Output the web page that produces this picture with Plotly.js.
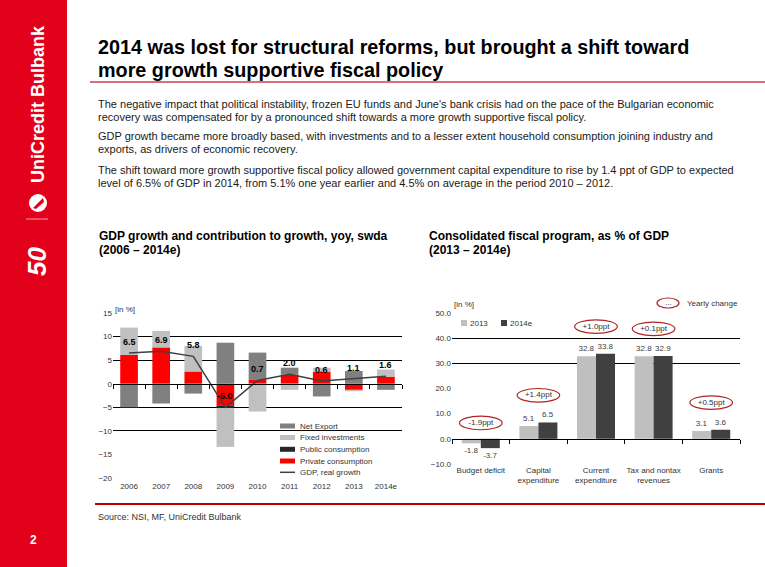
<!DOCTYPE html>
<html>
<head>
<meta charset="utf-8">
<script src="https://cdn.plot.ly/plotly-3.0.1.min.js"></script>
<style>html,body{margin:0;padding:0;background:#fff;}#chart{width:765px;height:567px;}</style>
</head>
<body>
<div id="chart"></div>
<script>
// ---------- Data ----------
const years = ['2006','2007','2008','2009','2010','2011','2012','2013','2014e'];
const privateConsumption = [6.1, 7.7, 2.6, -4.6, 0.8, 1.9, 2.5, -1.3, 1.5];
const publicConsumption  = [0, 0, 0, -0.6, 0, 0, 0, 0, 0];
const fixedInvestments   = [5.8, 3.5, 5.4, -8.2, -5.9, -1.3, 0.9, -0.3, 1.5];
const netExport          = [-5.0, -4.2, -2.1, 8.7, 5.8, 1.5, -2.7, 2.7, -1.3];
const gdpGrowth          = [6.5, 6.9, 5.8, -5.0, 0.7, 2.0, 0.6, 1.1, 1.6];
const leftTickVals = [-20, -15, -10, -5, 0, 5, 10, 15];
const leftGridVals = [-10, -5, 5, 10, 15];

const fiscalCategories = ['Budget deficit', 'Capital<br>expenditure', 'Current<br>expenditure', 'Tax and nontax<br>revenues', 'Grants'];
const fiscal2013  = [-1.8, 5.1, 32.8, 32.8, 3.1];
const fiscal2014e = [-3.7, 6.5, 33.8, 32.9, 3.6];
const rightTickVals = [-10, 0, 10, 20, 30, 40, 50];
const rightGridVals = [-10, 30, 40, 50];

// ---------- Styles ----------
const FONT = 'Liberation Sans, Arial, sans-serif';
const C_NET = '#808080', C_FIX = '#C0C0C0', C_PUB = '#262626', C_PRIV = '#FF0000', C_GDP = '#404040';
const C_13 = '#BFBFBF', C_14 = '#404040';
const RED = '#E2001A';
const W = 765, H = 567;
const px = x => x / W;
const py = y => 1 - y / H;

const L_DOM_X = [px(113), px(402)], L_DOM_Y = [py(478), py(313)], L_RANGE = [-20, 15];
const R_DOM_X = [px(452), px(740)], R_DOM_Y = [py(464), py(313)], R_RANGE = [-10, 50];
const zeroPos = (dom, rng) => dom[0] + (0 - rng[0]) / (rng[1] - rng[0]) * (dom[1] - dom[0]);

const barW = 0.55;
const traces = [
  {type:'bar', name:'Private consumption', x:years, y:privateConsumption, xaxis:'x', yaxis:'y', width:barW, marker:{color:C_PRIV}},
  {type:'bar', name:'Public consumption', x:years, y:publicConsumption, xaxis:'x', yaxis:'y', width:barW, marker:{color:C_PUB}},
  {type:'bar', name:'Fixed investments', x:years, y:fixedInvestments, xaxis:'x', yaxis:'y', width:barW, marker:{color:C_FIX}},
  {type:'bar', name:'Net Export', x:years, y:netExport, xaxis:'x', yaxis:'y', width:barW, marker:{color:C_NET}},
  {type:'scatter', mode:'lines', name:'GDP, real growth', x:years, y:gdpGrowth, xaxis:'x3', yaxis:'y3', line:{color:C_GDP, width:1.5}},
  {type:'bar', name:'2013', x:fiscalCategories, y:fiscal2013, xaxis:'x2', yaxis:'y2', offsetgroup:'a', width:0.33, offset:-0.33,
   marker:{color:C_13}, texttemplate:'%{y:.1f}', textposition:'outside', constraintext:'none', cliponaxis:false,
   textfont:{family:FONT, size:8, color:'#404040'}},
  {type:'bar', name:'2014e', x:fiscalCategories, y:fiscal2014e, xaxis:'x2', yaxis:'y2', offsetgroup:'b', width:0.33, offset:0,
   marker:{color:C_14}, texttemplate:'%{y:.1f}', textposition:'outside', constraintext:'none', cliponaxis:false,
   textfont:{family:FONT, size:8, color:'#404040'}}
];

// yearly change ovals
const changeY = fiscalCategories.map((c, i) => {
  const top = Math.max(fiscal2013[i], fiscal2014e[i]);
  return top > 0 ? top + 10.8 : 6.3;
});
const changeText = fiscalCategories.map((c, i) => {
  const d = fiscal2014e[i] - fiscal2013[i];
  return (d >= 0 ? '+' : '') + d.toFixed(1) + 'ppt';
});
traces.push({type:'scatter', mode:'text', x:fiscalCategories, y:changeY, text:changeText, xaxis:'x4', yaxis:'y4',
  textfont:{family:FONT, size:8, color:'#333'}, cliponaxis:false});

const shapes = [];
const annotations = [];
const txt = (x, y, text, size, color, opts) => annotations.push(Object.assign({xref:'paper', yref:'paper', x:px(x), y:py(y),
  xanchor:'left', yanchor:'middle', align:'left', showarrow:false, text:text, font:{family:FONT, size:size, color:color}}, opts || {}));

// page decoration
shapes.push({type:'rect', xref:'paper', yref:'paper', x0:0, x1:px(67), y0:0, y1:1, fillcolor:RED, line:{width:0}, layer:'below'});
shapes.push({type:'line', xref:'paper', yref:'paper', x0:px(90), x1:1, y0:py(82), y1:py(82), line:{color:'#C8424A', width:1.5}});
shapes.push({type:'line', xref:'paper', yref:'paper', x0:px(95), x1:1, y0:py(504), y1:py(504), line:{color:'#C00000', width:2}});
// logo
shapes.push({type:'circle', xref:'paper', yref:'paper', x0:px(29), x1:px(47), y0:py(212), y1:py(194), fillcolor:'#fff', line:{width:0}});
shapes.push({type:'path', xref:'paper', yref:'paper', path:`M ${px(33)} ${py(208)} L ${px(43)} ${py(198)} L ${px(44)} ${py(202)} L ${px(36)} ${py(209)} Z`, fillcolor:RED, line:{width:0}});
shapes.push({type:'line', xref:'paper', yref:'paper', x0:px(26), x1:px(48), y0:py(219), y1:py(219), line:{color:'#F3A0A8', width:1}});
txt(38, 104, '<b>UniCredit Bulbank</b>', 18, '#fff', {textangle:-90, xanchor:'center', yanchor:'middle'});
txt(37, 262, '<b><i>50</i></b>', 26, '#fff', {textangle:-90, xanchor:'center', yanchor:'middle'});
txt(33, 540, '<b>2</b>', 12, '#fff', {xanchor:'center'});

// title & text
txt(96, 47, '<b>2014 was lost for structural reforms, but brought a shift toward</b>', 19.8, '#000');
txt(96, 70, '<b>more growth supportive fiscal policy</b>', 19.8, '#000');
const bodyLines = [
  ["The negative impact that political instability, frozen EU funds and June's bank crisis had on the pace of the Bulgarian economic", 104],
  ['recovery was compensated for by a pronounced shift towards a more growth supportive fiscal policy.', 117],
  ['GDP growth became more broadly based, with investments and to a lesser extent household consumption joining industry and', 136],
  ['exports, as drivers of economic recovery.', 149],
  ['The shift toward more growth supportive fiscal policy allowed government capital expenditure to rise by 1.4 ppt of GDP to expected', 169.5],
  ['level of 6.5% of GDP in 2014, from 5.1% one year earlier and 4.5% on average in the period 2010 – 2012.', 183]
];
bodyLines.forEach(l => txt(96, l[1], l[0], 11, '#1a1a1a'));
txt(97, 236, '<b>GDP growth and contribution to growth, yoy, swda</b>', 12, '#000');
txt(97, 250, '<b>(2006 – 2014e)</b>', 12, '#000');
txt(427, 236, '<b>Consolidated fiscal program, as % of GDP</b>', 12, '#000');
txt(427, 250, '<b>(2013 – 2014e)</b>', 12, '#000');
txt(96, 517, 'Source: NSI, MF, UniCredit Bulbank', 9, '#333');
txt(113, 309, '[in %]', 8, '#333');
txt(452, 304, '[in %]', 8, '#333');

// GDP value labels
gdpGrowth.forEach((v, i) => annotations.push({xref:'x', yref:'y', x:i, y:v, yshift:11, showarrow:false,
  xanchor:'center', yanchor:'middle', text:'<b>' + v.toFixed(1) + '</b>', font:{family:FONT, size:9, color:'#000'}}));

// left legend (manual)
const legItems = [['Net Export', C_NET, 'rect'], ['Fixed investments', C_FIX, 'rect'], ['Public consumption', C_PUB, 'rect'],
                  ['Private consumption', C_PRIV, 'rect'], ['GDP, real growth', C_GDP, 'line']];
const legRows = [426, 437.5, 449.3, 461, 472.3];
legItems.forEach((it, i) => {
  const yy = legRows[i];
  if (it[2] === 'rect') shapes.push({type:'rect', xref:'paper', yref:'paper', x0:px(280), x1:px(295), y0:py(yy + 2.5), y1:py(yy - 2.5), fillcolor:it[1], line:{width:0}});
  else shapes.push({type:'line', xref:'paper', yref:'paper', x0:px(280), x1:px(295), y0:py(yy), y1:py(yy), line:{color:it[1], width:1.5}});
  txt(298, yy, it[0], 8, '#333');
});

// right legend (manual)
shapes.push({type:'rect', xref:'paper', yref:'paper', x0:px(461), x1:px(467), y0:py(326), y1:py(320), fillcolor:C_13, line:{width:0}});
shapes.push({type:'rect', xref:'paper', yref:'paper', x0:px(501), x1:px(507), y0:py(326), y1:py(320), fillcolor:C_14, line:{width:0}});
txt(468, 323, '2013', 8, '#333');
txt(508, 323, '2014e', 8, '#333');
shapes.push({type:'circle', xref:'paper', yref:'paper', x0:px(657), x1:px(679), y0:py(308), y1:py(298), line:{color:'#B22222', width:1.2}});
txt(668, 302, '...', 8, '#333', {xanchor:'center'});
txt(685, 303, 'Yearly change', 8, '#333');

// ovals around yearly changes
changeY.forEach((yc, i) => shapes.push({type:'circle', xref:'x2', yref:'y2', x0:i - 0.37, x1:i + 0.37, y0:yc - 2.7, y1:yc + 2.7,
  line:{color:'#B22222', width:1.2}}));

const tickFont = {family:FONT, size:8, color:'#333'};
const layout = {
  width:W, height:H, margin:{l:0, r:0, t:0, b:0}, paper_bgcolor:'#fff', plot_bgcolor:'rgba(0,0,0,0)',
  showlegend:false, barmode:'relative', font:{family:FONT},
  xaxis:{domain:L_DOM_X, anchor:'y', type:'category', range:[-0.5, 8.5], showgrid:false, zeroline:false, showline:false, ticks:'', tickfont:tickFont, ticklabelstandoff:2},
  yaxis:{domain:L_DOM_Y, anchor:'x', range:L_RANGE, tickmode:'array', tickvals:leftGridVals, showticklabels:false, showgrid:true, gridcolor:'#000', gridwidth:1, zeroline:false, ticks:''},
  xaxis3:{overlaying:'x', anchor:'free', position:zeroPos(L_DOM_Y, L_RANGE), type:'category', range:[-0.5, 8.5], showline:true, linecolor:'#000', linewidth:1,
    ticks:'outside', tickson:'boundaries', ticklen:4, tickcolor:'#000', showticklabels:false, showgrid:false, zeroline:false},
  yaxis3:{overlaying:'y', anchor:'x', range:L_RANGE, tickmode:'array', tickvals:leftTickVals, showgrid:false, zeroline:false, ticks:'', tickfont:tickFont},
  xaxis2:{domain:R_DOM_X, anchor:'y2', type:'category', range:[-0.5, 4.5], showgrid:false, zeroline:false, showline:false, ticks:'', tickfont:tickFont},
  yaxis2:{domain:R_DOM_Y, anchor:'x2', range:R_RANGE, tickmode:'array', tickvals:rightGridVals, showticklabels:false, showgrid:true, gridcolor:'#000', gridwidth:1, zeroline:false, ticks:''},
  xaxis4:{overlaying:'x2', anchor:'free', position:zeroPos(R_DOM_Y, R_RANGE), type:'category', range:[-0.5, 4.5], showline:true, linecolor:'#000', linewidth:1,
    ticks:'outside', tickson:'boundaries', ticklen:4, tickcolor:'#000', showticklabels:false, showgrid:false, zeroline:false},
  yaxis4:{overlaying:'y2', anchor:'x2', range:R_RANGE, tickmode:'array', tickvals:rightTickVals, tickformat:'.1f', showgrid:false, zeroline:false, ticks:'', tickfont:tickFont},
  shapes:shapes, annotations:annotations
};
Plotly.newPlot('chart', traces, layout, {staticPlot:true, displayModeBar:false});
</script>
</body>
</html>
